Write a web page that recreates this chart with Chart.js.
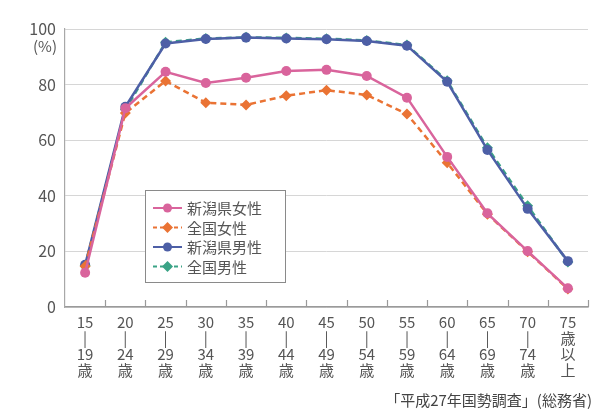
<!DOCTYPE html>
<html lang="ja">
<head>
<meta charset="utf-8">
<script src="https://cdn.jsdelivr.net/npm/chart.js@4.4.1/dist/chart.umd.min.js"></script>
<style>
  html, body { margin: 0; padding: 0; background: #ffffff; }
  #wrap { position: relative; width: 604px; height: 416px; }
</style>
</head>
<body>
<div id="wrap"><canvas id="c" width="604" height="416"></canvas></div>
<script>
// 年齢階級
const ageGroups = [
  ["15", "|", "19", "歳"], ["20", "|", "24", "歳"], ["25", "|", "29", "歳"],
  ["30", "|", "34", "歳"], ["35", "|", "39", "歳"], ["40", "|", "44", "歳"],
  ["45", "|", "49", "歳"], ["50", "|", "54", "歳"], ["55", "|", "59", "歳"],
  ["60", "|", "64", "歳"], ["65", "|", "69", "歳"], ["70", "|", "74", "歳"],
  ["75", "歳", "以", "上"]
];

// 労働力率 (%)
const niigataFemale = [12.3, 71.5, 84.6, 80.6, 82.5, 84.9, 85.3, 83.1, 75.3, 54.0, 33.7, 20.1, 6.7];
const nationalFemale = [14.7, 69.8, 81.3, 73.5, 72.7, 76.0, 78.0, 76.3, 69.4, 51.9, 33.4, 19.9, 6.5];
const niigataMale = [15.2, 72.0, 94.8, 96.4, 96.9, 96.6, 96.3, 95.7, 94.0, 81.0, 56.5, 35.3, 16.5];
const nationalMale = [14.8, 71.0, 95.2, 96.6, 97.0, 96.8, 96.5, 95.9, 94.2, 81.4, 57.3, 36.4, 16.2];

const yTicks = [0, 20, 40, 60, 80, 100];
const sourceNote = "「平成27年国勢調査」(総務省)";

const FONT = "'Noto Sans CJK JP', 'Noto Sans', sans-serif";
const TEXT = "#555555";

const seriesStyle = [
  { label: "新潟県女性", data: niigataFemale, color: "#d9649c", dash: [], point: "circle" },
  { label: "全国女性", data: nationalFemale, color: "#ea7334", dash: [6, 4], point: "rectRot" },
  { label: "新潟県男性", data: niigataMale, color: "#4d5fa6", dash: [], point: "circle" },
  { label: "全国男性", data: nationalMale, color: "#3aa386", dash: [6, 4], point: "rectRot" }
];

const datasets = seriesStyle.map(s => ({
  label: s.label,
  data: s.data,
  borderColor: s.color,
  backgroundColor: s.color,
  borderWidth: 2.5,
  borderDash: s.dash,
  pointStyle: s.point,
  pointRadius: s.point === "rectRot" ? 5.5 : 5,
  pointBorderWidth: 0,
  pointBackgroundColor: s.color,
  tension: 0,
  fill: false
}));

// 凡例・単位・出典・内向き目盛りの描画
const decorations = {
  id: "decorations",
  afterDraw(chart) {
    const ctx = chart.ctx;
    const xs = chart.scales.x;
    const ys = chart.scales.y;
    const area = chart.chartArea;
    ctx.save();

    // x 軸の区切り目盛り（内向き）
    const step = xs.getPixelForValue(1) - xs.getPixelForValue(0);
    ctx.strokeStyle = "#9a9a9a";
    ctx.lineWidth = 1.2;
    for (let i = 1; i <= ageGroups.length; i++) {
      const x = Math.round(xs.getPixelForValue(i - 1) + step / 2) + 0.5;
      ctx.beginPath();
      ctx.moveTo(x, area.bottom);
      ctx.lineTo(x, area.bottom - 7);
      ctx.stroke();
    }

    // 単位
    ctx.fillStyle = TEXT;
    ctx.font = "15px " + FONT;
    ctx.textAlign = "right";
    ctx.textBaseline = "middle";
    ctx.fillText("(%)", area.left - 8, ys.getPixelForValue(100) + 17);

    // 出典
    ctx.font = "15px " + FONT;
    ctx.fillStyle = "#444444";
    ctx.textAlign = "right";
    ctx.fillText(sourceNote, 592, 400);

    // 凡例
    const bx = 145.5, by = 190.5, bw = 140, bh = 92;
    ctx.fillStyle = "#ffffff";
    ctx.fillRect(bx, by, bw, bh);
    ctx.strokeStyle = "#8a8a8a";
    ctx.lineWidth = 1;
    ctx.setLineDash([]);
    ctx.strokeRect(bx, by, bw, bh);
    ctx.font = "15px " + FONT;
    ctx.textAlign = "left";
    chart.data.datasets.forEach((ds, i) => {
      const y = 208 + i * 19.5;
      ctx.strokeStyle = ds.borderColor;
      ctx.lineWidth = 2;
      ctx.setLineDash(ds.borderDash.length ? [4, 3] : []);
      ctx.beginPath();
      ctx.moveTo(153, y);
      ctx.lineTo(182, y);
      ctx.stroke();
      ctx.setLineDash([]);
      ctx.fillStyle = ds.borderColor;
      ctx.beginPath();
      if (ds.pointStyle === "rectRot") {
        ctx.moveTo(167.5, y - 5.5);
        ctx.lineTo(173, y);
        ctx.lineTo(167.5, y + 5.5);
        ctx.lineTo(162, y);
        ctx.closePath();
      } else {
        ctx.arc(167.5, y, 4.5, 0, Math.PI * 2);
      }
      ctx.fill();
      ctx.fillStyle = "#555555";
      ctx.fillText(ds.label, 187, y + 0.5);
    });
    ctx.restore();
  }
};

new Chart(document.getElementById("c"), {
  type: "line",
  data: { labels: ageGroups, datasets },
  options: {
    responsive: false,
    animation: false,
    devicePixelRatio: 1,
    layout: { padding: { top: 29, right: 16, left: 0, bottom: 0 } },
    plugins: {
      legend: { display: false },
      tooltip: { enabled: false }
    },
    scales: {
      x: {
        offset: true,
        grid: { drawOnChartArea: false, drawTicks: false },
        border: { display: true, color: "#9a9a9a", width: 1.5 },
        ticks: {
          color: TEXT,
          padding: 7,
          maxRotation: 0,
          autoSkip: false,
          font: { family: FONT, size: 15, lineHeight: 1.08 }
        },
        afterFit(scale) { scale.height = 109; }
      },
      y: {
        min: 0,
        max: 100,
        afterBuildTicks(scale) { scale.ticks = yTicks.map(v => ({ value: v })); },
        grid: { color: "#d6d6d6", lineWidth: 1, drawTicks: false },
        border: { display: true, color: "#a8a8a8", width: 1.2 },
        ticks: {
          color: TEXT,
          padding: 9,
          font: { family: FONT, size: 16 }
        },
        afterFit(scale) { scale.width = 65; }
      }
    }
  },
  plugins: [decorations]
});
</script>
</body>
</html>
